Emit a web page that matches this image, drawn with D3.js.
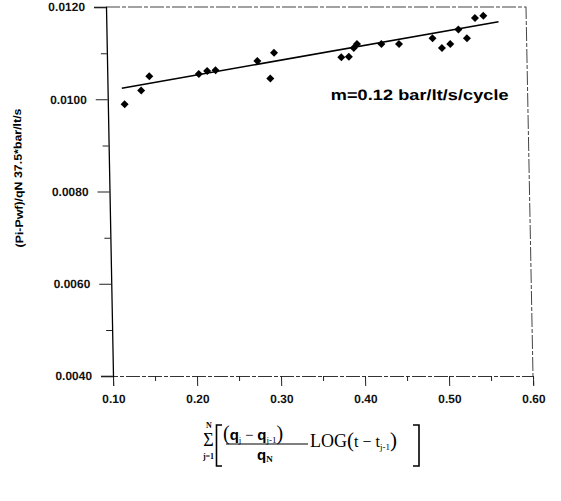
<!DOCTYPE html>
<html>
<head>
<meta charset="utf-8">
<script src="https://cdn.jsdelivr.net/npm/d3@7"></script>
<style>
  body { margin: 0; background: #fff; }
</style>
</head>
<body>
<div id="chart"></div>
<script>
{
  // data
  const xValues = [0.120, 0.140, 0.150, 0.209, 0.219, 0.229, 0.279, 0.294, 0.299, 0.379, 0.388,
                   0.394, 0.398, 0.427, 0.448, 0.488, 0.499, 0.509, 0.519, 0.529, 0.539, 0.549];
  const yValues = [0.00989, 0.01019, 0.01050, 0.01055, 0.01061, 0.01063, 0.01083, 0.01045, 0.01101, 0.01091, 0.01092,
                   0.01111, 0.01120, 0.01120, 0.01120, 0.01132, 0.01111, 0.01120, 0.01151, 0.01132, 0.01176, 0.01181];
  const fitX = [0.117, 0.567];
  const fitY = [0.01024, 0.01168];

  const xTicks = [0.10, 0.20, 0.30, 0.40, 0.50, 0.60];
  const xMinorTicks = [0.15, 0.25, 0.35, 0.45, 0.55];
  const yTicks = [0.0040, 0.0060, 0.0080, 0.0100, 0.0120];
  const yMinorTicks = [0.0050, 0.0070, 0.0090, 0.0110];

  const slopeLabel = "m=0.12 bar/lt/s/cycle";
  const yTitle = "(Pi-Pwf)/qN  37.5*bar/lt/s";

  const width = 561;
  const height = 501;
  const left = 113, right = 533, top = 7, bottom = 376;
  const shear = 0.019; // the scan is slightly slanted

  const svg = d3.select("#chart")
    .append("svg")
    .attr("width", width)
    .attr("height", height)
    .style("font-family", "'Liberation Sans', Arial, sans-serif");

  svg.append("rect").attr("width", width).attr("height", height).attr("fill", "#fff");

  const g = svg.append("g")
    .attr("transform", `matrix(1,0,${shear},1,${-shear * bottom},0)`);

  const x = d3.scaleLinear().domain([0.10, 0.60]).range([left, right]);
  const y = d3.scaleLinear().domain([0.0040, 0.0120]).range([bottom, top]);

  // frame (top and right) - faint dashed like the scan
  g.append("path")
    .attr("d", `M${left},${top} H${right} V${bottom}`)
    .attr("fill", "none")
    .attr("stroke", "#444")
    .attr("stroke-width", 1)
    .attr("stroke-dasharray", "14,2,4,2");

  // x axis
  const xAxis = g.append("g")
    .attr("transform", `translate(0,${bottom})`)
    .call(d3.axisBottom(x).tickValues(xTicks).tickSize(10).tickPadding(8).tickFormat(d3.format(".2f")));
  xAxis.select(".domain").attr("stroke", "#333").attr("stroke-dasharray", "14,2,4,2");
  xAxis.selectAll(".tick line").attr("stroke", "#222");
  xAxis.selectAll("text")
    .attr("font-size", 12)
    .attr("font-weight", "bold")
    .attr("fill", "#111");

  g.append("g")
    .attr("transform", `translate(0,${bottom})`)
    .call(d3.axisBottom(x).tickValues(xMinorTicks).tickSize(5).tickFormat(""))
    .call(a => a.select(".domain").remove())
    .selectAll(".tick line").attr("stroke", "#222");

  // y axis
  const yAxis = g.append("g")
    .attr("transform", `translate(${left},0)`)
    .call(d3.axisLeft(y).tickValues(yTicks).tickSize(12).tickPadding(9).tickFormat(d3.format(".4f")));
  yAxis.select(".domain").attr("stroke", "#000").attr("stroke-width", 1.3);
  yAxis.selectAll(".tick line").attr("stroke", "#222");
  yAxis.selectAll("text")
    .attr("font-size", 12)
    .attr("font-weight", "bold")
    .attr("fill", "#111");

  g.append("g")
    .attr("transform", `translate(${left},0)`)
    .call(d3.axisLeft(y).tickValues(yMinorTicks).tickSize(6).tickFormat(""))
    .call(a => a.select(".domain").remove())
    .selectAll(".tick line").attr("stroke", "#222");

  // y title
  g.append("text")
    .attr("transform", `translate(22,178) rotate(-90)`)
    .attr("text-anchor", "middle")
    .attr("dy", "0.35em")
    .attr("font-size", 11)
    .attr("font-weight", "bold")
    .attr("textLength", 139)
    .attr("lengthAdjust", "spacingAndGlyphs")
    .text(yTitle);

  // fitted line
  const line = d3.line().x(d => x(d[0])).y(d => y(d[1]));
  g.append("path")
    .datum(d3.zip(fitX, fitY))
    .attr("d", line)
    .attr("fill", "none")
    .attr("stroke", "#000")
    .attr("stroke-width", 1.6);

  // points
  const points = d3.zip(xValues, yValues);
  g.selectAll("path.pt")
    .data(points)
    .enter()
    .append("path")
    .attr("class", "pt")
    .attr("d", d3.symbol().type(d3.symbolSquare).size(32))
    .attr("transform", d => `translate(${x(d[0])},${y(d[1])}) rotate(45)`)
    .attr("fill", "#000");

  // slope annotation
  g.append("text")
    .attr("x", 336)
    .attr("y", 100)
    .attr("font-size", 15)
    .attr("font-weight", "bold")
    .attr("textLength", 178)
    .attr("lengthAdjust", "spacingAndGlyphs")
    .text(slopeLabel);

  // x title: summation formula
  const sans = "'Liberation Sans', Arial, sans-serif";
  const f = svg.append("g")
    .attr("font-family", "'Liberation Serif', 'Times New Roman', serif")
    .attr("fill", "#000");

  f.append("text").attr("x", 209).attr("y", 427.5).attr("text-anchor", "middle")
    .attr("font-size", 8).attr("font-weight", "bold").text("N");
  f.append("text").attr("x", 208.5).attr("y", 446).attr("text-anchor", "middle")
    .attr("font-size", 18).text("Σ");
  f.append("text").attr("x", 208.5).attr("y", 458.5).attr("text-anchor", "middle")
    .attr("font-size", 8).attr("font-weight", "bold").text("j=1");

  // square brackets
  f.append("path")
    .attr("d", "M222,425 H216.5 V466 H222 M413,425 H419 V466 H413")
    .attr("fill", "none").attr("stroke", "#000").attr("stroke-width", 1.6);

  // numerator
  const num = f.append("text").attr("x", 223).attr("y", 440);
  num.append("tspan").attr("font-size", 20).text("(");
  num.append("tspan").attr("font-size", 15).attr("font-weight", "bold")
    .attr("font-family", sans).text("q");
  num.append("tspan").attr("font-size", 9).attr("dy", 3).text("j");
  num.append("tspan").attr("font-size", 15).attr("dy", -3).text(" − ");
  num.append("tspan").attr("font-size", 15).attr("font-weight", "bold")
    .attr("font-family", sans).text("q");
  num.append("tspan").attr("font-size", 9).attr("dy", 3).text("j-1");
  num.append("tspan").attr("font-size", 20).attr("dy", -3).text(")");

  f.append("line")
    .attr("x1", 226).attr("x2", 308).attr("y1", 444).attr("y2", 444)
    .attr("stroke", "#000").attr("stroke-width", 1);

  // denominator
  const den = f.append("text").attr("x", 257).attr("y", 460);
  den.append("tspan").attr("font-size", 15).attr("font-weight", "bold")
    .attr("font-family", sans).text("q");
  den.append("tspan").attr("font-size", 9).attr("font-weight", "bold").attr("dy", 2).text("N");

  // LOG term
  const lg = f.append("text").attr("x", 310).attr("y", 447);
  lg.append("tspan").attr("font-size", 18).text("LOG");
  lg.append("tspan").attr("font-size", 21).text("(");
  lg.append("tspan").attr("font-size", 16).text("t − t");
  lg.append("tspan").attr("font-size", 9).attr("dy", 3).text("j-1");
  lg.append("tspan").attr("font-size", 21).attr("dy", -3).text(")");
}
</script>
</body>
</html>
